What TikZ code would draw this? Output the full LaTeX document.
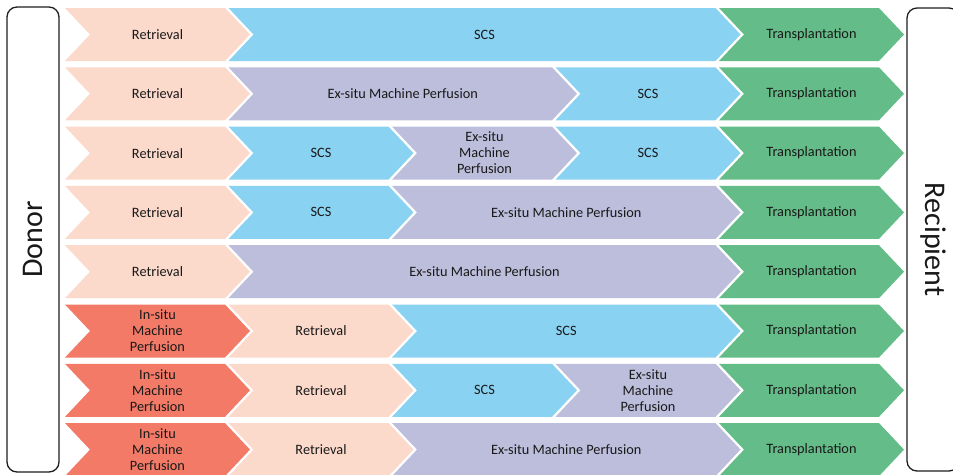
\documentclass[tikz,border=0pt]{standalone}
\usepackage{fontspec}
\setmainfont{Carlito}
\definecolor{retr}{RGB}{251,217,203}
\definecolor{scs}{RGB}{138,210,242}
\definecolor{exs}{RGB}{189,190,220}
\definecolor{trans}{RGB}{100,189,136}
\definecolor{insitu}{RGB}{242,122,103}
\definecolor{frame}{RGB}{30,30,30}
\tikzset{
  lbl/.style={inner sep=0pt, align=center, font=\fontsize{14.3}{16}\selectfont, text=black!90},
  sidebox/.style={draw=frame, line width=1.3pt, rounded corners=10pt, fill=white,
    minimum height=52pt, inner sep=0pt, font=\fontsize{30}{32}\selectfont, text=black!90}
}
% #1 name, #2 first column, #3 last column, #4 row, #5 colour, #6 text
\newcommand\chev[6]{%
  \pgfmathsetmacro\xa{65+163.5*#2}%
  \pgfmathsetmacro\xb{65+163.5*#3+185}%
  \pgfmathsetmacro\yt{-(8+59.3*#4)}%
  \pgfmathsetmacro\yb{\yt-53}%
  \pgfmathsetmacro\ym{\yt-26.5}%
  \pgfmathsetmacro\xc{(\xa+\xb)/2}%
  \fill[#5] (\xa,\yt) -- (\xb-25,\yt) -- (\xb,\ym) -- (\xb-25,\yb) -- (\xa,\yb) -- (\xa+25,\ym) -- cycle;
  \node[lbl] (#1) at (\xc,\ym) {#6};
}
\begin{document}
\begin{tikzpicture}[x=1pt,y=1pt]
\useasboundingbox (0,0) rectangle (953,-474);
% side boxes
\node[sidebox, minimum width=465pt, rotate=90] (donor) at (33,-239.5) {Donor};
\node[sidebox, minimum width=463pt, rotate=-90] (recipient) at (933,-239.5) {Recipient};
% row 1
\chev{r1a}{0}{0}{0}{retr}{Retrieval}
\chev{r1b}{1}{3}{0}{scs}{SCS}
\chev{r1c}{4}{4}{0}{trans}{Transplantation}
% row 2
\chev{r2a}{0}{0}{1}{retr}{Retrieval}
\chev{r2b}{1}{2}{1}{exs}{Ex-situ Machine Perfusion}
\chev{r2c}{3}{3}{1}{scs}{SCS}
\chev{r2d}{4}{4}{1}{trans}{Transplantation}
% row 3
\chev{r3a}{0}{0}{2}{retr}{Retrieval}
\chev{r3b}{1}{1}{2}{scs}{SCS}
\chev{r3c}{2}{2}{2}{exs}{Ex-situ\\Machine\\Perfusion}
\chev{r3d}{3}{3}{2}{scs}{SCS}
\chev{r3e}{4}{4}{2}{trans}{Transplantation}
% row 4
\chev{r4a}{0}{0}{3}{retr}{Retrieval}
\chev{r4b}{1}{1}{3}{scs}{SCS}
\chev{r4c}{2}{3}{3}{exs}{Ex-situ Machine Perfusion}
\chev{r4d}{4}{4}{3}{trans}{Transplantation}
% row 5
\chev{r5a}{0}{0}{4}{retr}{Retrieval}
\chev{r5b}{1}{3}{4}{exs}{Ex-situ Machine Perfusion}
\chev{r5c}{4}{4}{4}{trans}{Transplantation}
% row 6
\chev{r6a}{0}{0}{5}{insitu}{In-situ\\Machine\\Perfusion}
\chev{r6b}{1}{1}{5}{retr}{Retrieval}
\chev{r6c}{2}{3}{5}{scs}{SCS}
\chev{r6d}{4}{4}{5}{trans}{Transplantation}
% row 7
\chev{r7a}{0}{0}{6}{insitu}{In-situ\\Machine\\Perfusion}
\chev{r7b}{1}{1}{6}{retr}{Retrieval}
\chev{r7c}{2}{2}{6}{scs}{SCS}
\chev{r7d}{3}{3}{6}{exs}{Ex-situ\\Machine\\Perfusion}
\chev{r7e}{4}{4}{6}{trans}{Transplantation}
% row 8
\chev{r8a}{0}{0}{7}{insitu}{In-situ\\Machine\\Perfusion}
\chev{r8b}{1}{1}{7}{retr}{Retrieval}
\chev{r8c}{2}{3}{7}{exs}{Ex-situ Machine Perfusion}
\chev{r8d}{4}{4}{7}{trans}{Transplantation}
\end{tikzpicture}
\end{document}
